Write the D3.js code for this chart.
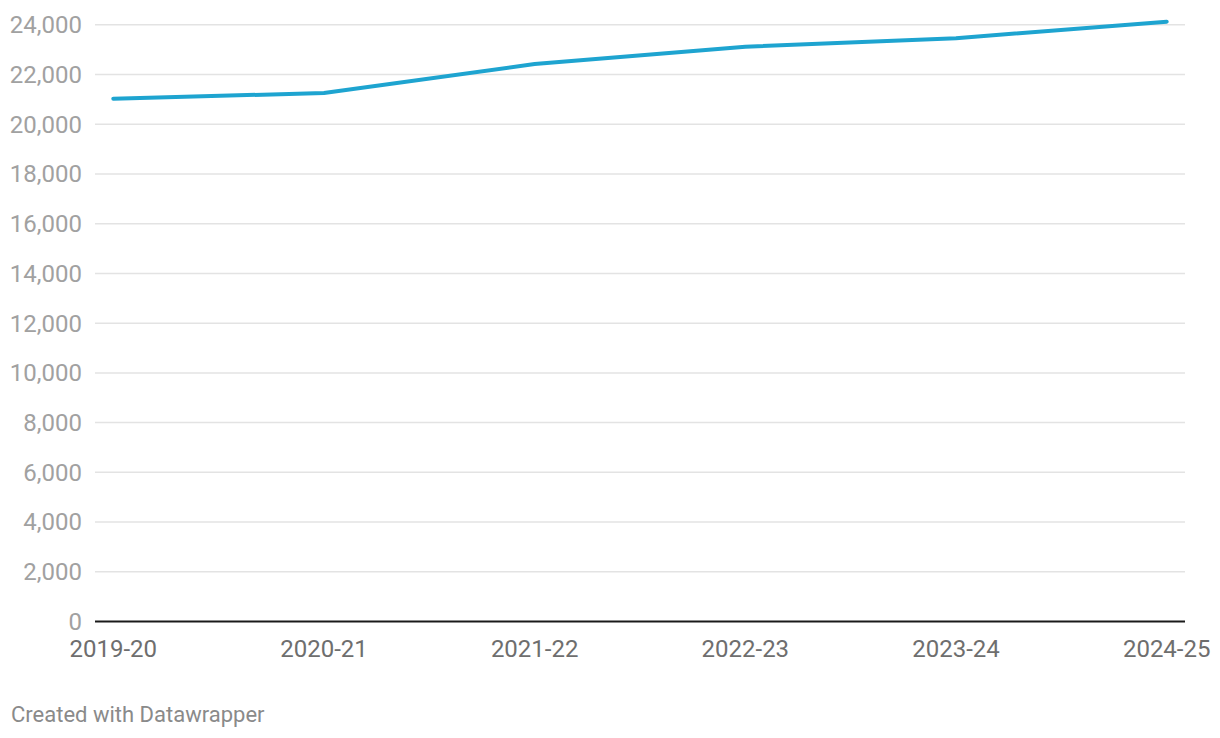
<!DOCTYPE html>
<html><head><meta charset="utf-8">
<script src="https://cdn.jsdelivr.net/npm/d3@7"></script>
<style>
html,body{margin:0;padding:0;background:#fff;}
svg{display:block;font-family:Roboto,sans-serif;}
</style></head>
<body><svg id="c" width="1220" height="738"></svg>
<script>
const categories = ["2019-20","2020-21","2021-22","2022-23","2023-24","2024-25"];
const values = [21030, 21255, 22420, 23120, 23460, 24125];
const yTicks = [0,2000,4000,6000,8000,10000,12000,14000,16000,18000,20000,22000,24000];

const svg = d3.select("#c");
const x = d3.scalePoint().domain(categories).range([113.3, 1166.7]);
const y = d3.scaleLinear().domain([0, 24000]).range([621.5, 24.8]);
const fmt = d3.format(",");

// gridlines
svg.append("g").selectAll("line").data(yTicks.filter(d=>d>0)).join("line")
  .attr("x1", 95).attr("x2", 1185)
  .attr("y1", d=>y(d)).attr("y2", d=>y(d))
  .attr("stroke", "#e3e3e3").attr("stroke-width", 1.5);

// y labels
svg.append("g").selectAll("text").data(yTicks).join("text")
  .attr("x", 82).attr("y", d=>y(d)).attr("dy", "0.35em")
  .attr("text-anchor", "end")
  .attr("fill", "#a1a1a1").attr("font-size", 24)
  .text(d=>fmt(d));

// baseline
svg.append("line").attr("x1", 95).attr("x2", 1185)
  .attr("y1", y(0)).attr("y2", y(0))
  .attr("stroke", "#1a1a1a").attr("stroke-width", 2);

// x labels
svg.append("g").selectAll("text").data(categories).join("text")
  .attr("x", d=>x(d)).attr("y", 657)
  .attr("text-anchor", "middle")
  .attr("fill", "#6e6e6e").attr("font-size", 24)
  .text(d=>d);

// line
const line = d3.line().x((d,i)=>x(categories[i])).y(d=>y(d));
svg.append("path").datum(values)
  .attr("d", line).attr("fill", "none")
  .attr("stroke", "#1ea4d0").attr("stroke-width", 4)
  .attr("stroke-linejoin", "round").attr("stroke-linecap", "round");

// footer
svg.append("text").attr("x", 11).attr("y", 721.5)
  .attr("fill", "#8a8a8a").attr("font-size", 22)
  .text("Created with Datawrapper");
</script></body></html>
